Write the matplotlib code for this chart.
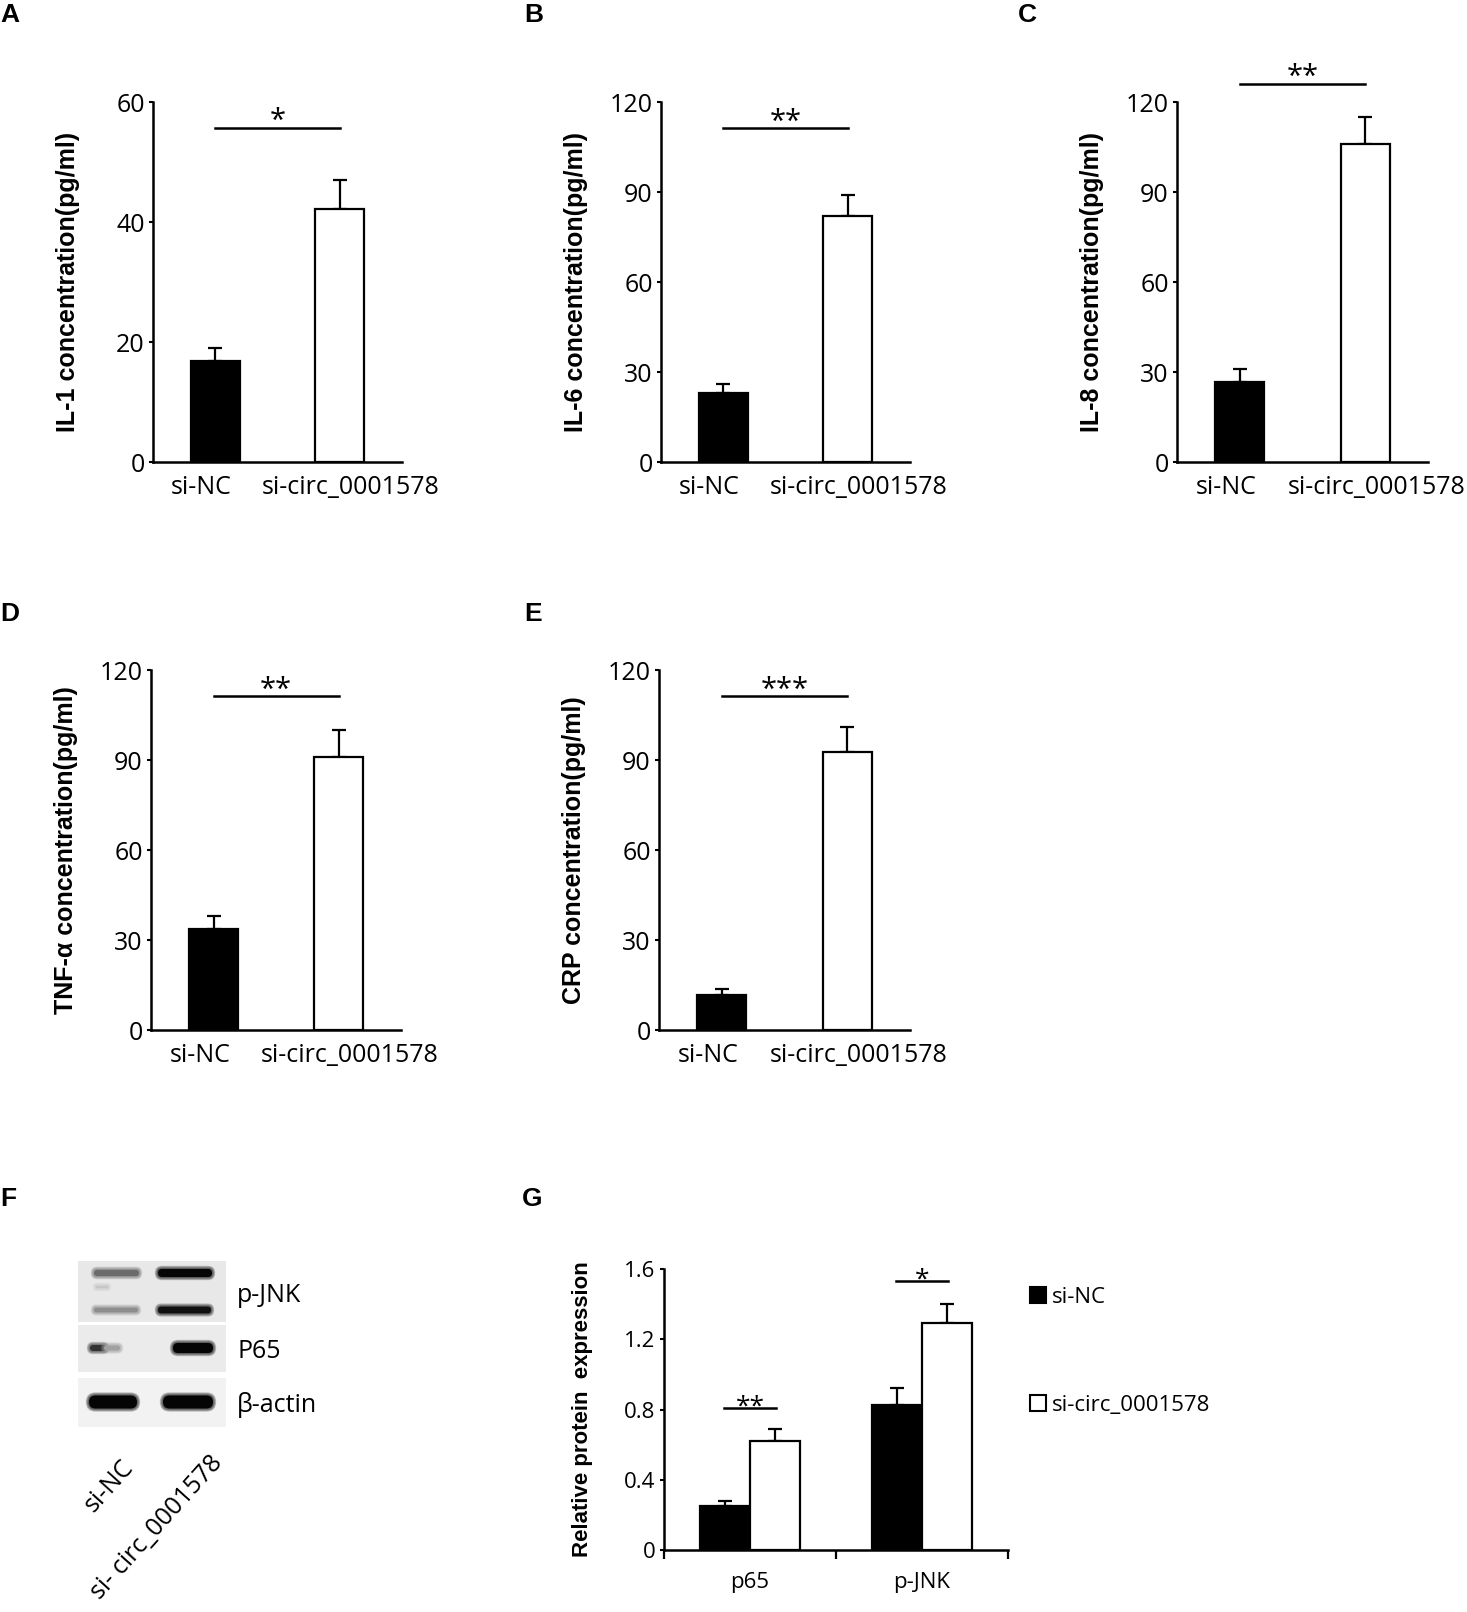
import numpy as np
import matplotlib
matplotlib.use('Agg')
import matplotlib.pyplot as plt
from matplotlib.patches import Patch, Rectangle, FancyBboxPatch

plt.rcParams['font.family'] = ['Open Sans', 'DejaVu Sans']

# ---- data ----
groups = ['si-NC', 'si-circ_0001578']

il1_mean = [16.8, 42.2]
il1_err = [2.2, 4.8]
il6_mean = [23.0, 82.0]
il6_err = [3.0, 7.0]
il8_mean = [26.7, 106.0]
il8_err = [4.3, 9.0]
tnf_mean = [33.7, 91.0]
tnf_err = [4.3, 9.0]
crp_mean = [11.7, 92.7]
crp_err = [2.0, 8.3]

proteins = ['p65', 'p-JNK']
nc_mean = [0.25, 0.825]
nc_err = [0.03, 0.095]
circ_mean = [0.62, 1.29]
circ_err = [0.07, 0.11]
g_sig = ['**', '*']
g_sig_y = [0.81, 1.53]
g_ticks = [0, 0.4, 0.8, 1.2, 1.6]
g_ticklabels = ['0', '0.4', '0.8', '1.2', '1.6']

# western blot band intensities (lane 1 = si-NC, lane 2 = si-circ)
blot_labels = ['p-JNK', 'P65', 'β-actin']
pjnk_upper = [0.55, 1.0]
pjnk_lower = [0.40, 0.95]
pjnk_faint = [0.15, 0.0]
p65_band = [0.80, 1.0]
actin_band = [1.0, 1.0]

W, H = 1467, 1612
fig = plt.figure(figsize=(W / 100, H / 100), dpi=100)


def px_axes(l, t, r, b):
    return fig.add_axes([l / W, 1 - b / H, (r - l) / W, (b - t) / H])


def bar_panel(box, means, errs, ymax, ylabel, sig, sig_y):
    ax = px_axes(*box)
    x = np.arange(len(groups)) + 0.5
    ax.bar(x, means, width=0.39, color=['black', 'white'], edgecolor='black',
           linewidth=1.6, zorder=2)
    ax.errorbar(x, means, yerr=[np.zeros(len(errs)), errs], fmt='none', ecolor='black',
                elinewidth=1.6, capsize=5, capthick=1.6, zorder=1)
    ax.set_xlim(0, 2)
    ax.set_ylim(0, ymax)
    n = 5 if ymax == 120 else 4
    ticks = np.linspace(0, ymax, n)
    ax.set_yticks(ticks)
    ax.set_yticklabels(['%d' % v for v in ticks])
    ax.set_xticks([0.39, 1.59])
    ax.set_xticklabels(groups)
    ax.tick_params(axis='x', length=0, pad=9, labelsize=18)
    ax.tick_params(axis='y', length=3, width=1.5, pad=3, labelsize=18)
    for s in ['top', 'right']:
        ax.spines[s].set_visible(False)
    for s in ['left', 'bottom']:
        ax.spines[s].set_linewidth(1.8)
    ax.set_ylabel(ylabel, fontsize=18, fontweight='bold', family=['Liberation Sans', 'DejaVu Sans'])
    ax.yaxis.set_label_coords(-73 / (box[2] - box[0]), 0.5)
    ax.plot([x[0], x[1]], [sig_y, sig_y], color='black', lw=1.8, clip_on=False)
    ax.annotate(sig, (1.0, sig_y), xytext=(0, -1), textcoords='offset points',
                ha='center', va='baseline', fontsize=21, annotation_clip=False)
    return ax


bar_panel((153, 102, 402, 462), il1_mean, il1_err, 60, 'IL-1 concentration(pg/ml)', '*', 55.7)
bar_panel((661, 102, 910, 462), il6_mean, il6_err, 120, 'IL-6 concentration(pg/ml)', '**', 111.3)
bar_panel((1177, 102, 1428, 462), il8_mean, il8_err, 120, 'IL-8 concentration(pg/ml)', '**', 126)
bar_panel((151, 670, 401, 1030), tnf_mean, tnf_err, 120, 'TNF-α concentration(pg/ml)', '**', 111.3)
bar_panel((659, 670, 910, 1030), crp_mean, crp_err, 120, 'CRP concentration(pg/ml)', '***', 111.3)

# ---- panel G ----
axg = px_axes(664, 1269, 1008, 1550)
xg = np.arange(len(proteins)) + 0.5
axg.bar(xg - 0.145, nc_mean, width=0.29, color='black', edgecolor='black', linewidth=1.6, zorder=2)
axg.bar(xg + 0.145, circ_mean, width=0.29, color='white', edgecolor='black', linewidth=1.6, zorder=2)
axg.errorbar(xg - 0.145, nc_mean, yerr=[np.zeros(2), nc_err], fmt='none', ecolor='black',
             elinewidth=1.6, capsize=5, capthick=1.6, zorder=1)
axg.errorbar(xg + 0.145, circ_mean, yerr=[np.zeros(2), circ_err], fmt='none', ecolor='black',
             elinewidth=1.6, capsize=5, capthick=1.6, zorder=1)
axg.set_xlim(0, 2)
axg.set_ylim(0, 1.6)
axg.set_yticks(g_ticks)
axg.set_yticklabels(g_ticklabels)
axg.set_xticks([0, 1, 2])
axg.set_xticklabels([])
axg.set_xticks(xg, minor=True)
axg.set_xticklabels(proteins, minor=True)
axg.tick_params(axis='x', which='major', length=6.5, width=1.6, direction='out')
axg.tick_params(axis='x', which='minor', length=0, pad=16, labelsize=16)
axg.tick_params(axis='y', length=3, width=1.5, pad=3, labelsize=16)
for s in ['top', 'right']:
    axg.spines[s].set_visible(False)
for s in ['left', 'bottom']:
    axg.spines[s].set_linewidth(1.8)
axg.set_ylabel('Relative protein  expression', fontsize=16, fontweight='bold',
               family=['Liberation Sans', 'DejaVu Sans'])
axg.yaxis.set_label_coords(-71 / 344, 0.5)
for xi, s, sy in zip(xg, g_sig, g_sig_y):
    axg.plot([xi - 0.15, xi + 0.15], [sy, sy], color='black', lw=1.8, clip_on=False)
    axg.annotate(s, (xi, sy), xytext=(0, -4), textcoords='offset points',
                 ha='center', va='baseline', fontsize=19, annotation_clip=False)
fig.legend(handles=[Patch(facecolor='black', edgecolor='black', linewidth=1.5),
                    Patch(facecolor='white', edgecolor='black', linewidth=1.5)],
           labels=groups, loc='upper left', bbox_to_anchor=(1030 / W, 1 - 1287 / H),
           frameon=False, fontsize=16, handlelength=0.7, handleheight=0.7,
           handletextpad=0.3, labelspacing=3.9, borderpad=0, borderaxespad=0)

# ---- panel F: western blot ----
axb = px_axes(78, 1261, 226, 1427)
axb.set_xlim(0, 148)
axb.set_ylim(166, 0)
axb.axis('off')
panel_rows = [(0, 61, 0.91), (64, 111, 0.92), (117, 166, 0.95)]
for top, bot, bg in panel_rows:
    axb.add_patch(Rectangle((0, top), 148, bot - top, color=str(bg), lw=0))


def band(x0, x1, yc, h, v, bg):
    if v <= 0:
        return
    g = bg * (1 - v) + 0.02 * v
    # blurred edge: a few widening translucent layers, then the core
    for k in range(4, 0, -1):
        axb.add_patch(FancyBboxPatch((x0, yc - h / 2), x1 - x0, h,
                                     boxstyle='round,pad=%.1f,rounding_size=%.1f' % (0.8 * k, h / 2 + 0.8 * k),
                                     color=str(g), alpha=0.22, lw=0))
    axb.add_patch(FancyBboxPatch((x0, yc - h / 2), x1 - x0, h,
                                 boxstyle='round,pad=0,rounding_size=%.1f' % (h / 2),
                                 color=str(g), lw=0))


lane_x = [(16, 61), (80, 134)]
for i in range(2):
    band(lane_x[i][0], lane_x[i][1], 12, 4 + 4 * pjnk_upper[i], pjnk_upper[i], 0.91)
    band(lane_x[i][0] + 2, lane_x[i][0] + 14, 26, 2, pjnk_faint[i], 0.91)
    band(lane_x[i][0], lane_x[i][1] - 1, 49, 3 + 4 * pjnk_lower[i], pjnk_lower[i], 0.91)
band(12, 28, 87, 6, p65_band[0], 0.92)
band(26, 42, 87, 5, p65_band[0] * 0.4, 0.92)
band(95, 135, 87, 10, p65_band[1], 0.92)
band(11, 59, 141, 13, actin_band[0], 0.95)
band(85, 135, 141, 13, actin_band[1], 0.95)

for lab, yc in zip(blot_labels, [1295, 1352, 1405]):
    fig.text(237 / W, 1 - yc / H, lab, fontsize=18, ha='left', va='center')
fig.text(120 / W, 1 - 1455 / H, 'si-NC', fontsize=18, rotation=48, rotation_mode='anchor',
         ha='right', va='top')
fig.text(209 / W, 1 - 1451 / H, 'si- circ_0001578', fontsize=18, rotation=48, rotation_mode='anchor',
         ha='right', va='top')

# ---- panel letters ----
for lab, xp, yp in [('A', 0, 15), ('B', 524, 15), ('C', 1018, 15), ('D', 0, 614),
                    ('E', 524, 614), ('F', 0, 1199), ('G', 522, 1199)]:
    fig.text(xp / W, 1 - yp / H, lab, fontsize=19, fontweight='bold', ha='left', va='center',
             family=['Liberation Sans', 'DejaVu Sans'])

fig.savefig('out.png', dpi=100)
